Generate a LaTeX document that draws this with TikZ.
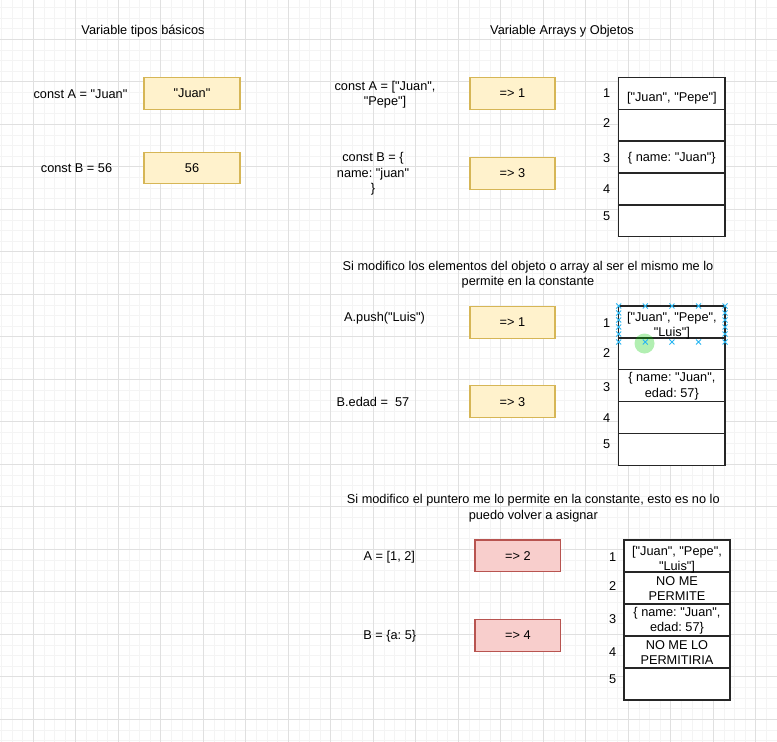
\documentclass[tikz,border=0pt]{standalone}
\usepackage{fontspec}
\setmainfont{Liberation Sans}[Ligatures=TeXOff]
\frenchspacing
\definecolor{ylwfill}{HTML}{FFF2CC}
\definecolor{ylwline}{HTML}{D6B656}
\definecolor{redfill}{HTML}{F8CECC}
\definecolor{redline}{HTML}{B85450}
\definecolor{gridminor}{HTML}{F4F4F4}
\definecolor{gridmajor}{HTML}{E0E0E0}
\definecolor{selblue}{HTML}{29B6F2}
\definecolor{selgreen}{HTML}{00CC00}
\begin{document}
\begin{tikzpicture}[x=1pt,y=-1pt,
  txt/.style={font=\fontsize{12.75}{15.3}\selectfont\frenchspacing, inner sep=0pt, align=center, text=black},
  ybox/.style={txt, draw=ylwline, fill=ylwfill, line width=1.3pt, minimum height=32pt},
  rbox/.style={txt, draw=redline, fill=redfill, line width=1.3pt, minimum height=32pt},
  cell/.style={draw=black!85, line width=1.3pt, fill=white, minimum width=106.3pt, inner sep=0pt},
  minorline/.style={draw=gridminor, line width=0.7pt},
  majorline/.style={draw=gridmajor, line width=1pt},
  selmark/.style={draw=selblue, line width=0.9pt},
]
\useasboundingbox (0,0) rectangle (777,742);
\fill[white] (0,0) rectangle (777,742);
% grid
\foreach \i in {0,...,73} { \draw[minorline] ({1.4+10.625*\i},0) -- ({1.4+10.625*\i},742); }
\foreach \i in {0,...,69} { \draw[minorline] (0,{7.4+10.625*\i}) -- (777,{7.4+10.625*\i}); }
\foreach \i in {1,...,18} { \draw[majorline] ({-9.2+42.5*\i},0) -- ({-9.2+42.5*\i},742); }
\foreach \i in {1,...,17} { \draw[majorline] (0,{-3.2+42.5*\i}) -- (777,{-3.2+42.5*\i}); }

% ---------- left section ----------
\node[txt] (titleL) at (143,31) {Variable tipos básicos};
\node[txt] (constA) at (80.5,94) {const A = "Juan"};
\node[ybox, minimum width=96pt, minimum height=31.5pt] (valA) at (192,93.5) {"Juan"};
\node[txt] (constB) at (76.5,168) {const B = 56};
\node[ybox, minimum width=96pt, minimum height=31.5pt] (valB) at (192,168) {56};

% ---------- top right section ----------
\node[txt] (titleR) at (562,31) {Variable Arrays y Objetos};
\node[txt] (arrA) at (385,94.7) {const A = ["Juan",\\"Pepe"]};
\node[ybox, minimum width=85pt] (p1) at (512.5,93.5) {=> 1};
\node[txt] (objB) at (373,174) {const B = \{\\name: "juan"\\\}};
\node[ybox, minimum width=85pt] (p3) at (512.5,173.3) {=> 3};
\foreach \r/\cy in {1/93.2,2/125.1,3/157.0,4/188.9,5/220.8} {
  \node[cell, minimum height=31.9pt] (ta\r) at (671.85,\cy) {};
}
\node[txt] (la1) at (606.7,93.3) {1};
\node[txt] (la2) at (606.7,123.3) {2};
\node[txt] (la3) at (606.7,157.7) {3};
\node[txt] (la4) at (606.7,189.3) {4};
\node[txt] (la5) at (606.7,216) {5};
\node[txt] (ma1) at (671.85,98.3) {["Juan", "Pepe"]};
\node[txt] (ma3) at (671.85,158) {\{ name: "Juan"\}};

% ---------- middle section ----------
\node[txt] (titleM) at (528,274.8) {Si modifico los elementos del objeto o array al ser el mismo me lo\\permite en la constante};
\node[txt] (pushA) at (384.5,318.3) {A.push("Luis")};
\node[ybox, minimum width=85pt] (q1) at (512.5,322.2) {=> 1};
\node[txt] (edadB) at (373,402.3) {B.edad = \ 57};
\node[ybox, minimum width=85pt] (q3) at (512.5,401.7) {=> 3};
\foreach \r/\cy in {1/321.9,2/353.8,3/385.6,4/417.5,5/449.4} {
  \node[cell, minimum height=31.86pt] (tb\r) at (671.85,\cy) {};
}
\node[txt] (lb1) at (606.7,322.7) {1};
\node[txt] (lb2) at (606.7,352.7) {2};
\node[txt] (lb3) at (606.7,386.7) {3};
\node[txt] (lb4) at (606.7,418.3) {4};
\node[txt] (lb5) at (606.7,444.3) {5};
\node[txt] (mb1) at (671.85,325.6) {["Juan", "Pepe",\\"Luis"]};
\node[txt] (mb3) at (671.85,386.2) {\{ name: "Juan",\\edad: 57\}};
% selection markers
\fill[selgreen, fill opacity=0.3] (644.5,343.5) circle (10);
\foreach \sx in {618.7,645.3,671.9,698.5,725} {
  \foreach \sy in {306,342} {
    \draw[selmark] (\sx-2.5,\sy-2.5) -- (\sx+2.5,\sy+2.5) (\sx-2.5,\sy+2.5) -- (\sx+2.5,\sy-2.5);
  }
}
\foreach \sx in {618.7,725} {
  \foreach \sy in {313,320,327,334} {
    \draw[selmark] (\sx-2.5,\sy-2.5) -- (\sx+2.5,\sy+2.5) (\sx-2.5,\sy+2.5) -- (\sx+2.5,\sy-2.5);
  }
}

% ---------- bottom section ----------
\node[txt] (titleB) at (533.3,508.2) {Si modifico el puntero me lo permite en la constante, esto es no lo\\puedo volver a asignar};
\node[txt] (asgA) at (389.3,557.3) {A = [1, 2]};
\node[rbox, minimum width=85.7pt, minimum height=31.7pt] (r2) at (517.85,555.85) {=> 2};
\node[txt] (asgB) at (389.7,636) {B = \{a: 5\}};
\node[rbox, minimum width=85.7pt, minimum height=32.4pt] (r4) at (517.85,635.5) {=> 4};
\foreach \r/\cy in {1/556,2/588,3/620,4/652,5/684} {
  \node[cell, minimum width=106pt, minimum height=32pt] (tc\r) at (677,\cy) {};
}
\node[txt] (lc1) at (612.7,557.3) {1};
\node[txt] (lc2) at (612.7,586) {2};
\node[txt] (lc3) at (612.7,619) {3};
\node[txt] (lc4) at (612.7,651.7) {4};
\node[txt] (lc5) at (612.7,679) {5};
\node[txt] (mc1) at (677,559.8) {["Juan", "Pepe",\\"Luis"]};
\node[txt] (mc2) at (677,588.3) {NO ME\\PERMITE};
\node[txt] (mc3) at (677,620.5) {\{ name: "Juan",\\edad: 57\}};
\node[txt] (mc4) at (677,652.2) {NO ME LO\\PERMITIRIA};
\end{tikzpicture}
\end{document}
